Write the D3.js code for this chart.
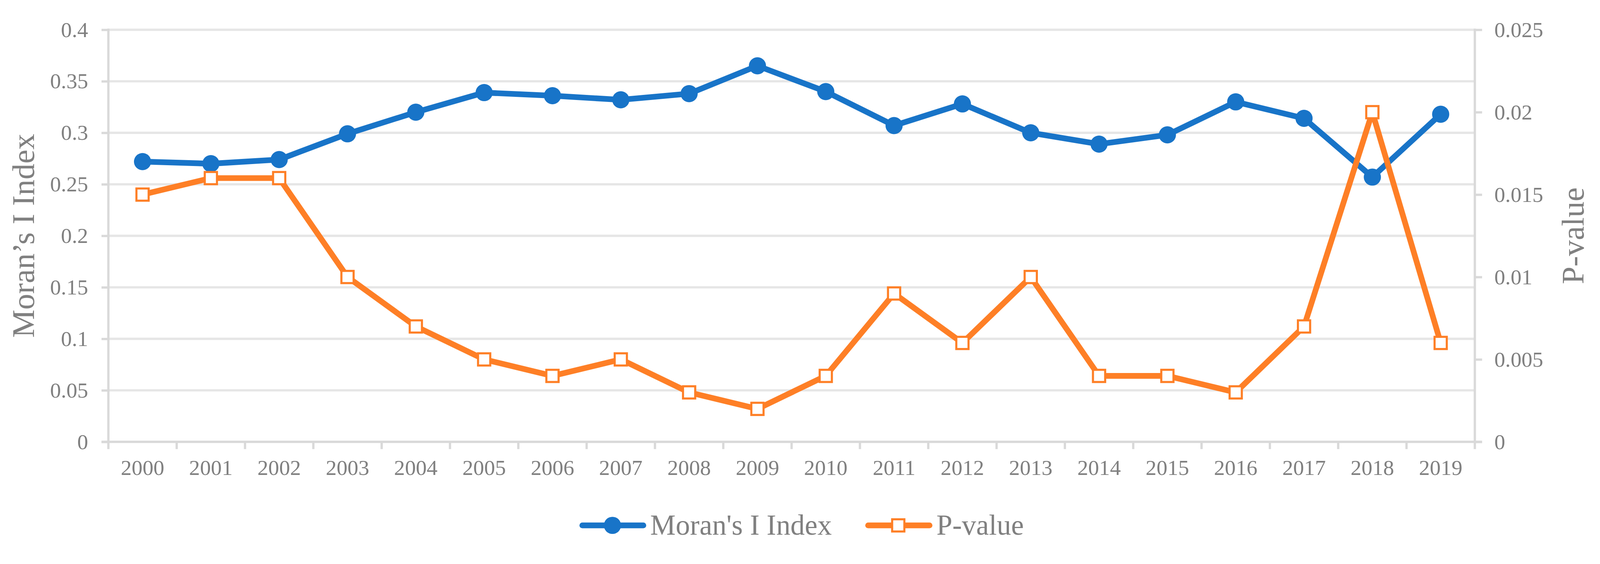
<!DOCTYPE html>
<html lang="en">
<head>
<meta charset="UTF-8">
<script src="https://d3js.org/d3.v7.min.js"></script>
<style>
    html, body { margin: 0; padding: 0; background: #fff; overflow: hidden; }
    svg { display: block; width: 100vw; height: 100vh; font-family: "Liberation Serif", "Times New Roman", serif; }
</style>
</head>
<body>
<svg></svg>
<script>
    // data
    let years = ["2000","2001","2002","2003","2004","2005","2006","2007","2008","2009",
                 "2010","2011","2012","2013","2014","2015","2016","2017","2018","2019"];
    let moran = [0.272, 0.270, 0.274, 0.299, 0.320, 0.339, 0.336, 0.332, 0.338, 0.365,
                 0.340, 0.307, 0.328, 0.300, 0.289, 0.298, 0.330, 0.314, 0.257, 0.318];
    let pvalue = [0.015, 0.016, 0.016, 0.010, 0.007, 0.005, 0.004, 0.005, 0.003, 0.002,
                  0.004, 0.009, 0.006, 0.010, 0.004, 0.004, 0.003, 0.007, 0.020, 0.006];
    let leftTicks = [0, 0.05, 0.1, 0.15, 0.2, 0.25, 0.3, 0.35, 0.4];
    let rightTicks = [0, 0.005, 0.01, 0.015, 0.02, 0.025];

    let width = 4193, height = 1444;
    let plotL = 284, plotR = 3865, plotT = 78, plotB = 1158;
    let blue = "#1874c8", orange = "#fe7f26", grey = "#808080";

    // viewBox so the drawing fits whatever the real viewport is, pinned top-left
    let svg = d3.select("svg")
        .attr("viewBox", "0 0 " + width + " " + height)
        .attr("preserveAspectRatio", "xMinYMin meet");

    let x = d3.scaleBand().domain(years).range([plotL, plotR]).padding(0);
    let yL = d3.scaleLinear().domain([0, 0.4]).range([plotB, plotT]);
    let yR = d3.scaleLinear().domain([0, 0.025]).range([plotB, plotT]);
    let cx = d => x(d) + x.bandwidth() / 2;
    let fmt = d => String(+d.toFixed(3));

    // gridlines
    svg.append("g").selectAll("line")
        .data(leftTicks.slice(1))
        .enter().append("line")
        .attr("x1", plotL).attr("x2", plotR)
        .attr("y1", d => yL(d)).attr("y2", d => yL(d))
        .style("stroke", "#e6e6e6").style("stroke-width", 6);

    // left axis
    let gL = svg.append("g")
        .attr("transform", "translate(" + plotL + ",0)")
        .call(d3.axisLeft(yL).tickValues(leftTicks).tickFormat(fmt).tickSize(18).tickPadding(35));
    // right axis
    let gR = svg.append("g")
        .attr("transform", "translate(" + plotR + ",0)")
        .call(d3.axisRight(yR).tickValues(rightTicks).tickFormat(fmt).tickSize(19).tickPadding(32));
    // bottom labels
    let gB = svg.append("g")
        .attr("transform", "translate(0," + plotB + ")")
        .call(d3.axisBottom(x).tickSize(0).tickPadding(46));

    [gL, gR, gB].forEach(g => {
        g.select(".domain").remove();
        g.selectAll("line").style("stroke", "#d9d9d9").style("stroke-width", 6);
        g.selectAll("text")
            .style("font-family", "'Liberation Serif', 'Times New Roman', serif")
            .style("font-size", "57px")
            .style("fill", grey);
    });

    // category boundary ticks
    svg.append("g").selectAll("line")
        .data(years.concat(["end"]))
        .enter().append("line")
        .attr("x1", (d, i) => plotL + i * x.step()).attr("x2", (d, i) => plotL + i * x.step())
        .attr("y1", plotB).attr("y2", plotB + 19)
        .style("stroke", "#d9d9d9").style("stroke-width", 6);

    // axis lines
    svg.append("line").attr("x1", plotL).attr("x2", plotL).attr("y1", plotT - 3).attr("y2", plotB + 3)
        .style("stroke", "#d9d9d9").style("stroke-width", 6);
    svg.append("line").attr("x1", plotR).attr("x2", plotR).attr("y1", plotT - 3).attr("y2", plotB + 3)
        .style("stroke", "#d9d9d9").style("stroke-width", 6);
    svg.append("line").attr("x1", plotL - 18).attr("x2", plotR + 19).attr("y1", plotB).attr("y2", plotB)
        .style("stroke", "#d9d9d9").style("stroke-width", 6);

    // axis titles
    svg.append("text")
        .attr("transform", "translate(89," + ((plotT + plotB) / 2) + ") rotate(-90)")
        .attr("text-anchor", "middle")
        .style("font-size", "83px").style("fill", grey)
        .text("Moran\u2019s I Index");
    svg.append("text")
        .attr("transform", "translate(4150," + ((plotT + plotB) / 2) + ") rotate(-90)")
        .attr("text-anchor", "middle")
        .style("font-size", "83px").style("fill", grey)
        .text("P-value");

    // Moran's I series
    let lineL = d3.line().x((d, i) => cx(years[i])).y(d => yL(d));
    svg.append("path")
        .attr("d", lineL(moran))
        .style("fill", "none").style("stroke", blue).style("stroke-width", 15)
        .style("stroke-linejoin", "round").style("stroke-linecap", "round");
    svg.append("g").selectAll("circle")
        .data(moran)
        .enter().append("circle")
        .attr("cx", (d, i) => cx(years[i]))
        .attr("cy", d => yL(d))
        .attr("r", 22.5)
        .style("fill", blue);

    // P-value series
    let lineR = d3.line().x((d, i) => cx(years[i])).y(d => yR(d));
    svg.append("path")
        .attr("d", lineR(pvalue))
        .style("fill", "none").style("stroke", orange).style("stroke-width", 15)
        .style("stroke-linejoin", "round").style("stroke-linecap", "round");
    svg.append("g").selectAll("rect")
        .data(pvalue)
        .enter().append("rect")
        .attr("x", (d, i) => cx(years[i]) - 16)
        .attr("y", d => yR(d) - 16)
        .attr("width", 32).attr("height", 32)
        .style("fill", "#fff").style("stroke", orange).style("stroke-width", 5.5);

    // legend
    let legend = svg.append("g").attr("class", "legend");
    let ly = 1377;
    legend.append("line").attr("x1", 1526).attr("x2", 1686).attr("y1", ly).attr("y2", ly)
        .style("stroke", blue).style("stroke-width", 15).style("stroke-linecap", "round");
    legend.append("circle").attr("cx", 1605).attr("cy", ly).attr("r", 22.5).style("fill", blue);
    legend.append("text").attr("x", 1704).attr("y", 1401)
        .style("font-size", "75px").style("fill", grey).text("Moran's I Index");
    legend.append("line").attr("x1", 2275).attr("x2", 2436).attr("y1", ly).attr("y2", ly)
        .style("stroke", orange).style("stroke-width", 15).style("stroke-linecap", "round");
    legend.append("rect").attr("x", 2354 - 16).attr("y", ly - 16).attr("width", 32).attr("height", 32)
        .style("fill", "#fff").style("stroke", orange).style("stroke-width", 5.5);
    legend.append("text").attr("x", 2454).attr("y", 1401)
        .style("font-size", "75px").style("fill", grey).text("P-value");
</script>
</body>
</html>
